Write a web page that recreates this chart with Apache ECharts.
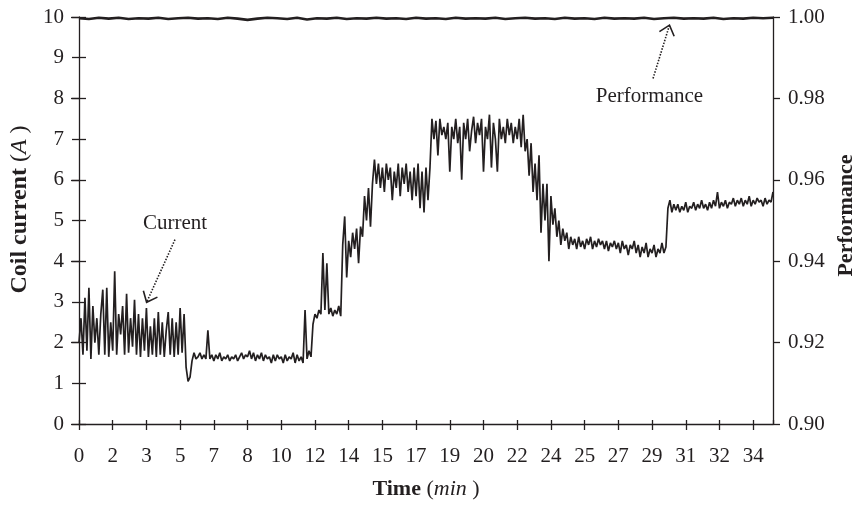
<!DOCTYPE html>
<html><head><meta charset="utf-8">
<script src="https://cdn.jsdelivr.net/npm/echarts@6/dist/echarts.min.js"></script>
<style>html,body{margin:0;padding:0;background:#fff}#c{width:856px;height:505px}</style>
</head><body><div id="c"></div>
<script>
// ---- tick labels on the time axis (one per 1.7 min tick) ----
const xTickLabels = ['0','2','3','5','7','8','10','12','14','15','17','19','20','22','24','25','27','29','31','32','34'];
const xTickInterval = 1.7;
const xMax = 35;

// ---- coil current (A), sampled every 0.1 min, rows = one minute ----
const currentStep = 0.1;
const currentValues = [
  2.0,2.6,1.7,3.1,1.8,3.35,1.6,2.9,2.0,2.6,
  1.7,2.7,3.3,1.7,3.35,1.65,2.5,1.8,3.75,1.7,
  2.7,2.2,2.9,1.7,3.2,1.75,2.6,1.9,3.05,1.7,
  2.7,1.65,2.6,1.8,2.85,1.65,2.4,1.7,2.6,1.65,
  2.75,1.7,2.5,1.65,2.3,2.75,1.7,2.6,1.65,2.5,
  1.7,2.85,1.75,2.7,1.4,1.05,1.15,1.55,1.75,1.6,
  1.65,1.75,1.6,1.7,1.6,2.3,1.6,1.7,1.55,1.7,
  1.6,1.75,1.55,1.65,1.6,1.7,1.55,1.65,1.6,1.7,
  1.55,1.65,1.75,1.6,1.7,1.65,1.8,1.6,1.75,1.55,
  1.7,1.6,1.75,1.55,1.7,1.6,1.65,1.5,1.7,1.55,
  1.7,1.6,1.65,1.5,1.7,1.55,1.65,1.6,1.75,1.5,
  1.7,1.55,1.65,1.5,2.8,1.6,1.8,1.65,2.45,2.7,
  2.6,2.8,2.7,4.2,2.8,3.95,2.7,2.85,2.65,2.8,
  2.7,2.9,2.65,4.4,5.1,3.6,4.5,4.1,4.7,4.3,
  4.8,3.95,4.85,4.6,5.6,5.0,5.8,4.85,5.9,6.5,
  5.9,6.4,5.8,6.3,5.7,6.4,6.0,6.3,5.5,6.2,
  5.8,6.4,5.6,6.3,5.9,6.4,5.7,6.2,5.5,6.3,
  5.6,6.4,5.3,6.2,5.2,6.3,5.5,6.3,7.5,7.0,
  7.45,6.6,7.5,7.1,7.3,7.0,7.4,6.2,7.3,7.0,
  7.5,6.9,7.3,6.0,7.4,7.0,7.5,6.7,7.2,7.55,
  6.9,7.4,7.1,7.5,6.2,7.3,7.0,7.6,6.3,7.4,
  7.0,6.2,7.5,7.0,7.3,6.9,7.5,7.1,7.4,6.9,
  7.3,7.0,7.5,6.8,7.6,6.7,7.0,6.1,6.9,5.7,
  6.4,5.5,6.6,4.7,5.9,5.0,5.9,4.0,5.6,4.9,
  5.3,4.6,5.0,4.4,4.8,4.5,4.7,4.3,4.6,4.4,
  4.55,4.3,4.6,4.35,4.5,4.3,4.55,4.4,4.6,4.3,
  4.5,4.35,4.55,4.4,4.5,4.3,4.5,4.25,4.45,4.35,
  4.5,4.3,4.45,4.2,4.5,4.3,4.4,4.15,4.4,4.3,
  4.5,4.2,4.4,4.1,4.35,4.2,4.45,4.1,4.3,4.2,
  4.4,4.1,4.3,4.2,4.45,4.2,4.35,5.3,5.5,5.2,
  5.4,5.25,5.4,5.2,5.35,5.25,5.45,5.2,5.35,5.3,
  5.45,5.25,5.4,5.3,5.5,5.3,5.4,5.25,5.45,5.3,
  5.5,5.35,5.7,5.3,5.45,5.35,5.5,5.3,5.45,5.4,
  5.55,5.35,5.5,5.4,5.55,5.35,5.5,5.4,5.6,5.35,
  5.5,5.4,5.55,5.45,5.5,5.35,5.55,5.4,5.5,5.45,
  5.7
];

// ---- performance, sampled every 0.5 min ----
const performanceStep = 0.5;
const performanceValues = [
  0.9997,0.9995,0.9998,0.9996,0.9998,0.9995,0.9997,0.9996,0.9998,0.9995,
  0.9997,0.9998,0.9996,0.9997,0.9995,0.9998,0.9996,0.9993,0.9996,0.9998,
  0.9997,0.9995,0.9998,0.9994,0.9997,0.9996,0.9998,0.9995,0.9997,0.9996,
  0.9998,0.9996,0.9997,0.9995,0.9998,0.9996,0.9997,0.9995,0.9998,0.9996,
  0.9997,0.9996,0.9998,0.9995,0.9997,0.9998,0.9996,0.9997,0.9995,0.9998,
  0.9996,0.9997,0.9995,0.9998,0.9996,0.9997,0.9996,0.9998,0.9995,0.9997,
  0.9998,0.9996,0.9997,0.9996,0.9998,0.9995,0.9997,0.9996,0.9998,0.9997,
  0.9998
];

// ---- annotations (data coordinates) ----
const currentNote = { text: 'Current', label: [4.84, 4.93], tail: [4.84, 4.53], tip: [3.41, 2.99] };
const perfNote = { text: 'Performance', label: [28.77, 0.9805], tail: [28.95, 0.9849], tip: [29.78, 0.998] };

const FONT = '"Liberation Serif","Times New Roman",Times,serif';
const INK = '#231f20';
const LBL = 21;

const currentData = currentValues.map((v, i) => [+(i * currentStep).toFixed(2), v]);
const perfData = performanceValues.map((v, i) => [+(i * performanceStep).toFixed(2), v]);

const axisLine = { show: true, onZero: false, lineStyle: { color: INK, width: 1.3 } };
const tickStyle = { color: INK, width: 1.3 };
function richName(size) {
  return {
    b: { fontFamily: FONT, fontSize: size, fontWeight: 'bold', color: INK },
    n: { fontFamily: FONT, fontSize: size, color: INK },
    i: { fontFamily: FONT, fontSize: size, fontStyle: 'italic', color: INK }
  };
}

const chart = echarts.init(document.getElementById('c'), null, { renderer: 'canvas' });
chart.setOption({
  animation: false,
  backgroundColor: '#fff',
  grid: { left: 79, right: 83, top: 17, bottom: 81, containLabel: false, outerBoundsMode: 'none' },
  xAxis: [
    {
      type: 'value', position: 'bottom', min: 0, max: xMax, interval: xTickInterval,
      axisLine: axisLine,
      axisTick: { show: true, inside: false, length: 6, lineStyle: tickStyle },
      axisLabel: {
        color: INK, fontFamily: FONT, fontSize: LBL, margin: 22, showMaxLabel: false,
        formatter: v => { const k = Math.round(v / xTickInterval); return (Math.abs(k * xTickInterval - v) < 1e-6 && xTickLabels[k] !== undefined) ? xTickLabels[k] : ''; }
      },
      splitLine: { show: false },
      name: '{b|Time} {n|(}{i|min}{n| )}', nameLocation: 'middle', nameGap: 54,
      nameTextStyle: { color: INK, fontFamily: FONT, fontSize: 22, rich: richName(22) }
    },
    {
      type: 'value', position: 'bottom', min: 0, max: xMax, interval: xTickInterval,
      axisLine: { show: false },
      axisTick: { show: true, inside: true, length: 4, lineStyle: tickStyle },
      axisLabel: { show: false }, splitLine: { show: false }
    }
  ],
  yAxis: [
    {
      type: 'value', position: 'left', min: 0, max: 10, interval: 1,
      axisLine: axisLine,
      axisTick: { show: true, inside: false, length: 7, lineStyle: tickStyle },
      axisLabel: { color: INK, fontFamily: FONT, fontSize: LBL, margin: 15 },
      splitLine: { show: false },
      name: '{b|Coil current} {n|(}{i|A}{n| )}', nameLocation: 'middle', nameGap: 42,
      nameTextStyle: { color: INK, fontFamily: FONT, fontSize: 24, padding: [0, 0, 0, 22], rich: richName(24) }
    },
    {
      type: 'value', position: 'right', min: 0.9, max: 1.0, interval: 0.02,
      axisLine: axisLine,
      axisTick: { show: true, inside: false, length: 7, lineStyle: tickStyle },
      axisLabel: { color: INK, fontFamily: FONT, fontSize: LBL, margin: 15, formatter: v => v.toFixed(2) },
      splitLine: { show: false },
      name: 'Performance', nameLocation: 'middle', nameGap: 60,
      nameTextStyle: { color: INK, fontFamily: FONT, fontSize: 22, fontWeight: 'bold', padding: [0, 0, 0, 10] }
    },
    {
      type: 'value', position: 'left', min: 0, max: 10, interval: 1,
      axisLine: { show: false },
      axisTick: { show: true, inside: true, length: 7, lineStyle: tickStyle },
      axisLabel: { show: false }, splitLine: { show: false }
    },
    {
      type: 'value', position: 'right', min: 0.9, max: 1.0, interval: 0.02,
      axisLine: { show: false },
      axisTick: { show: true, inside: true, length: 8, lineStyle: tickStyle },
      axisLabel: { show: false }, splitLine: { show: false }
    }
  ],
  series: [
    {
      name: 'Current', type: 'line', xAxisIndex: 0, yAxisIndex: 0, data: currentData,
      showSymbol: false, symbol: 'none', lineStyle: { color: INK, width: 1.7 }, itemStyle: { color: INK }
    },
    {
      name: 'Performance', type: 'line', xAxisIndex: 0, yAxisIndex: 1, data: perfData, clip: false,
      showSymbol: false, symbol: 'none', lineStyle: { color: INK, width: 2.6 }, itemStyle: { color: INK }
    }
  ]
});

function px(pt, yIdx) { return chart.convertToPixel({ xAxisIndex: 0, yAxisIndex: yIdx }, pt); }
function noteEls(note, yIdx) {
  const tail = px(note.tail, yIdx), tip = px(note.tip, yIdx), lab = px(note.label, yIdx);
  const dx = tip[0] - tail[0], dy = tip[1] - tail[1], L = Math.hypot(dx, dy);
  const bx = -dx / L, by = -dy / L, len = 12, ang = 40 * Math.PI / 180;
  const wing = s => { const c = Math.cos(s * ang), sn = Math.sin(s * ang); return [tip[0] + len * (bx * c - by * sn), tip[1] + len * (bx * sn + by * c)]; };
  return [
    { type: 'line', silent: true, shape: { x1: tail[0], y1: tail[1], x2: tip[0], y2: tip[1] }, style: { stroke: INK, lineWidth: 1.6, lineDash: [1.5, 1.5] } },
    { type: 'polyline', silent: true, shape: { points: [wing(1), tip, wing(-1)] }, style: { stroke: INK, lineWidth: 1.6, fill: null } },
    { type: 'text', silent: true, x: lab[0], y: lab[1], style: { text: note.text, fill: INK, fontFamily: FONT, fontSize: LBL, align: 'center', verticalAlign: 'middle', textAlign: 'center', textVerticalAlign: 'middle' } }
  ];
}
chart.setOption({ graphic: { elements: [...noteEls(currentNote, 0), ...noteEls(perfNote, 1)] } });
</script>
</body></html>
